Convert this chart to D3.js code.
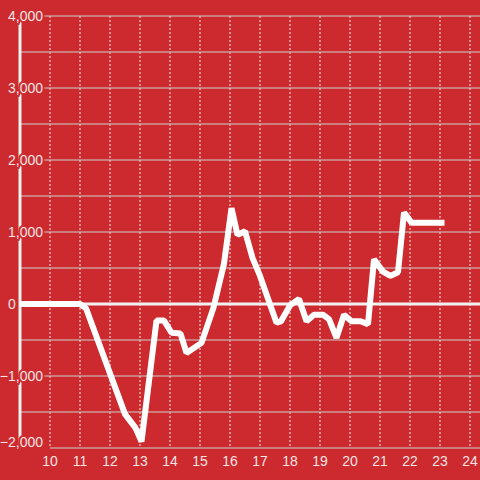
<!DOCTYPE html>
<html>
<head>
<meta charset="utf-8">
<script src="https://cdn.jsdelivr.net/npm/d3@7"></script>
<style>
  html, body { margin: 0; padding: 0; background: #cc2a2f; }
  svg { display: block; font-family: "Liberation Sans", Arial, sans-serif; }
</style>
</head>
<body>
<div id="chart"></div>
<script>
// hours of the day and running value
var hours = [9.0, 11.0, 11.2, 12.5, 12.85, 13.05, 13.55, 13.8, 14.05, 14.35, 14.55, 15.05, 15.45, 15.8,
             16.05, 16.25, 16.5, 16.75, 17.0, 17.55, 17.7, 18.0, 18.3, 18.55, 18.8, 19.1, 19.3, 19.55,
             19.8, 20.05, 20.35, 20.6, 20.8, 21.1, 21.35, 21.6, 21.8, 22.05, 23.15];
var values = [0, 0, -60, -1530, -1720, -1910, -230, -230, -400, -410, -680, -540, -50, 560,
              1330, 960, 1010, 640, 390, -260, -240, -20, 70, -240, -150, -150, -210, -470,
              -150, -240, -240, -280, 620, 450, 390, 440, 1270, 1130, 1130];
var xTicks = [10, 11, 12, 13, 14, 15, 16, 17, 18, 19, 20, 21, 22, 23, 24];
var yTicks = [-2000, -1000, 0, 1000, 2000, 3000, 4000];
var yGrid = [-1500, -1000, -500, 500, 1000, 1500, 2000, 2500, 3000, 3500, 4000];

var width = 480,
    height = 480;

var bg = "#cc2a2f";

var svg = d3.select("#chart")
    .append("svg")
    .attr("width", width)
    .attr("height", height)

svg.append("rect")
    .attr("width", width)
    .attr("height", height)
    .attr("fill", bg)

var x = d3.scaleLinear().domain([9, 24]).range([20, 470])
var y = d3.scaleLinear().domain([-2000, 4000]).range([448, 16])

// dotted verticals
svg.selectAll(".vgrid")
    .data(xTicks)
    .enter().append("line")
    .attr("class", "vgrid")
    .attr("x1", function(d) { return x(d) })
    .attr("x2", function(d) { return x(d) })
    .attr("y1", y(4000))
    .attr("y2", y(-2000))
    .attr("stroke", "#eeeeee")
    .attr("stroke-width", 1)
    .attr("stroke-dasharray", "2,2")

// horizontal grid
svg.selectAll(".hgrid")
    .data(yGrid)
    .enter().append("line")
    .attr("class", "hgrid")
    .attr("x1", x(9))
    .attr("x2", width)
    .attr("y1", function(d) { return y(d) })
    .attr("y2", function(d) { return y(d) })
    .attr("stroke", "#cfcfcf")
    .attr("stroke-width", 1)

// bottom baseline
svg.append("line")
    .attr("x1", x(10))
    .attr("x2", width)
    .attr("y1", y(-2000))
    .attr("y2", y(-2000))
    .attr("stroke", "#cfcfcf")
    .attr("stroke-width", 1)

// zero line
svg.append("line")
    .attr("x1", x(9))
    .attr("x2", width)
    .attr("y1", y(0))
    .attr("y2", y(0))
    .attr("stroke", "#f2f2f2")
    .attr("stroke-width", 3)

// y axis bar
svg.append("line")
    .attr("x1", x(9))
    .attr("x2", x(9))
    .attr("y1", y(4000))
    .attr("y2", y(-2000))
    .attr("stroke", "#f2f2f2")
    .attr("stroke-width", 3)

// data line
var points = hours.map(function(h, i) { return [h, values[i]] })
var line = d3.line()
    .x(function(d) { return x(d[0]) })
    .y(function(d) { return y(d[1]) })

svg.append("path")
    .datum(points)
    .attr("d", line)
    .attr("fill", "none")
    .attr("stroke", "#ffffff")
    .attr("stroke-width", 6)
    .attr("stroke-linejoin", "bevel")

// y labels
var fmt = d3.format(",")
svg.selectAll(".ylab")
    .data(yTicks)
    .enter().append("text")
    .attr("class", "ylab")
    .attr("x", function(d) { return d === 0 ? 8 : 43 })
    .attr("y", function(d) { return d === -2000 ? y(d) - 6 : y(d) })
    .attr("dy", "0.35em")
    .attr("text-anchor", function(d) { return d === 0 ? "start" : "end" })
    .attr("font-size", 14)
    .attr("fill", "#f6e4e4")
    .attr("stroke", bg)
    .attr("stroke-width", 4)
    .attr("paint-order", "stroke")
    .text(function(d) { return fmt(d) })

// x labels
svg.selectAll(".xlab")
    .data(xTicks)
    .enter().append("text")
    .attr("class", "xlab")
    .attr("x", function(d) { return x(d) })
    .attr("y", 466)
    .attr("text-anchor", "middle")
    .attr("font-size", 14)
    .attr("fill", "#f6e4e4")
    .text(function(d) { return d })
</script>
</body>
</html>
